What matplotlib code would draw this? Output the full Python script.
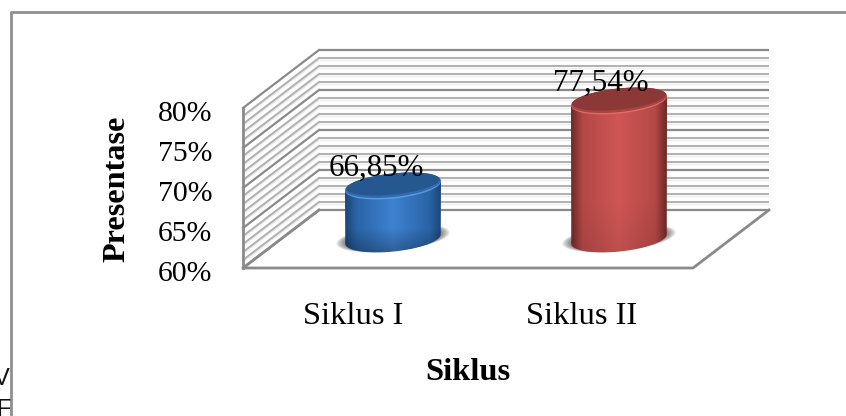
import numpy as np
import matplotlib
matplotlib.use("Agg")
import matplotlib.pyplot as plt
from matplotlib.patches import Ellipse, PathPatch
from matplotlib.path import Path
from matplotlib.colors import LinearSegmentedColormap

plt.rcParams["font.family"] = "Liberation Serif"

categories = ["Siklus I", "Siklus II"]
values = [66.85, 77.54]
value_labels = ["66,85%", "77,54%"]
tick_values = [60, 65, 70, 75, 80]
tick_labels = ["60%", "65%", "70%", "75%", "80%"]
minor_values = [v for v in range(60, 81)]
y_title = "Presentase"
x_title = "Siklus"

fig = plt.figure(figsize=(8.46, 4.16), dpi=100)
ax = fig.add_axes([0, 0, 1, 1])
ax.axis("off")

# 3D frame geometry
FX0, FX1, FY60 = 243, 693, 268
DX, DY = 76, -58
PX = 8.0


def fy(v):
    return FY60 - (v - 60) * PX


frame_col = "#8a8a8a"
minor_col = "#b0b0b0"
light_col = "#ececec"
for v in minor_values:
    major = v in tick_values
    y = fy(v)
    if not major:
        ax.plot([FX0 + DX, FX1 + DX], [y + DY + 2, y + DY + 2], color=light_col, lw=1.0, zorder=1,
                solid_capstyle="butt")
        ax.plot([FX0, FX0 + DX], [y + 2, y + DY + 2], color=light_col, lw=1.0, zorder=1)
    c = frame_col if major else minor_col
    lw = 1.6 if major else 1.4
    ax.plot([FX0 + DX, FX1 + DX], [y + DY, y + DY], color=c, lw=lw, zorder=1, solid_capstyle="butt")
    ax.plot([FX0, FX0 + DX], [y, y + DY], color=c, lw=lw, zorder=1)
ax.plot([FX0, FX0], [fy(80), fy(60)], color=frame_col, lw=2.0, zorder=2)
ax.plot([FX0 + DX, FX0, FX1, FX1 + DX], [fy(60) + DY, fy(60), fy(60), fy(60) + DY],
        color=frame_col, lw=2.0, zorder=2)

# Outer chart border (open on the right and bottom)
ax.plot([10.5, 10.5, 846], [416, 12, 12], color="#8f8f8f", lw=2, zorder=1)

# Neighbouring text, cut by the border at lower left
for ch, yy in (("V", 379), ("F", 410)):
    ax.text(10, yy, ch, family="Liberation Sans", fontsize=17, ha="right", va="center", color="#111111")

# Ticks
for v, lab in zip(tick_values, tick_labels):
    ax.text(212, fy(v) + 6, lab, fontsize=21.4, ha="right", va="center", color="black")

# Cylinders
centers = [393, 619]
label_x = [376, 600.5]
colors = [
    ("#1c4676", "#2a64a8", "#3f82d0", "#25588f", "#2f6db0", "#5b9be0"),
    ("#6c2827", "#b34846", "#cf5654", "#8c3836", "#a84442", "#e06a66"),
]
vertical_fall = [0.72, 0.92]
RX, RY, TILT = 48, 12.5, -6
BASE = 239
SY = 7.95
a = np.deg2rad(TILT)


def ellipse_pts(cx, cy):
    t = np.linspace(0, 2 * np.pi, 180)
    x = RX * np.cos(t)
    y = RY * np.sin(t)
    return cx + x * np.cos(a) - y * np.sin(a), cy + x * np.sin(a) + y * np.cos(a), t


for cx, val, cols, lab, lx, fall in zip(centers, values, colors, value_labels, label_x, vertical_fall):
    dark, mid, bright, top_dark, top_mid, rim = cols
    cy_top = BASE + 1.5 - (val - 60) * SY
    # shadow
    for k in range(8):
        f = 1 - k / 8
        ax.add_patch(Ellipse((cx, BASE - 1), 2 * RX + 18 * f, 2 * RY + 1 * f, angle=TILT,
                             color="#303030", alpha=0.09, lw=0, zorder=3))
    # body
    bx, by, t = ellipse_pts(cx, BASE)
    low = np.sin(t) >= 0
    verts = list(zip(bx[low], by[low]))
    verts += [(cx - RX, cy_top + RX * abs(np.sin(a)))]
    verts += [(cx, cy_top), (cx + RX, cy_top - RX * abs(np.sin(a)))]
    verts += [verts[0]]
    body = Path(verts)
    cmap = LinearSegmentedColormap.from_list("c", [(0, dark), (0.12, mid), (0.5, bright), (0.88, mid), (1, dark)])
    rgb = cmap(np.linspace(0, 1, 256))[:, :3]
    fade = np.ones(80)
    fade[55:] = np.linspace(1, fall, 25)
    img = rgb[None, :, :] * fade[:, None, None]
    im = ax.imshow(img, extent=[cx - RX, cx + RX, BASE + RY + 2, cy_top - RY - 2],
                   aspect="auto", zorder=4)
    im.set_clip_path(PathPatch(body, transform=ax.transData))
    # top cap
    ax.add_patch(Ellipse((cx, cy_top), 2 * RX, 2 * RY, angle=TILT, fc=rim, ec="none", zorder=5))
    ax.add_patch(Ellipse((cx, cy_top - 0.8), 2 * RX, 2 * RY - 1.4, angle=TILT, fc=top_mid, ec="none", zorder=5))
    ax.add_patch(Ellipse((cx, cy_top - 2), 2 * RX - 2, 2 * RY - 4, angle=TILT, fc=top_dark, ec="none", zorder=5))
    ax.text(lx, cy_top - 18, lab, fontsize=22.3, ha="center", va="center", color="black", zorder=6)

ax.set_xlim(0, 846)
ax.set_ylim(416, 0)

# Category labels
for cx, lab in zip([353, 582], categories):
    ax.text(cx, 316, lab, fontsize=23.4, ha="center", va="center", color="black")

ax.text(117, 189, y_title, fontsize=23.2, fontweight="bold", rotation=90, ha="center", va="center")
ax.text(468, 373, x_title, fontsize=23.4, fontweight="bold", ha="center", va="center")

fig.savefig("out.png", dpi=100)
